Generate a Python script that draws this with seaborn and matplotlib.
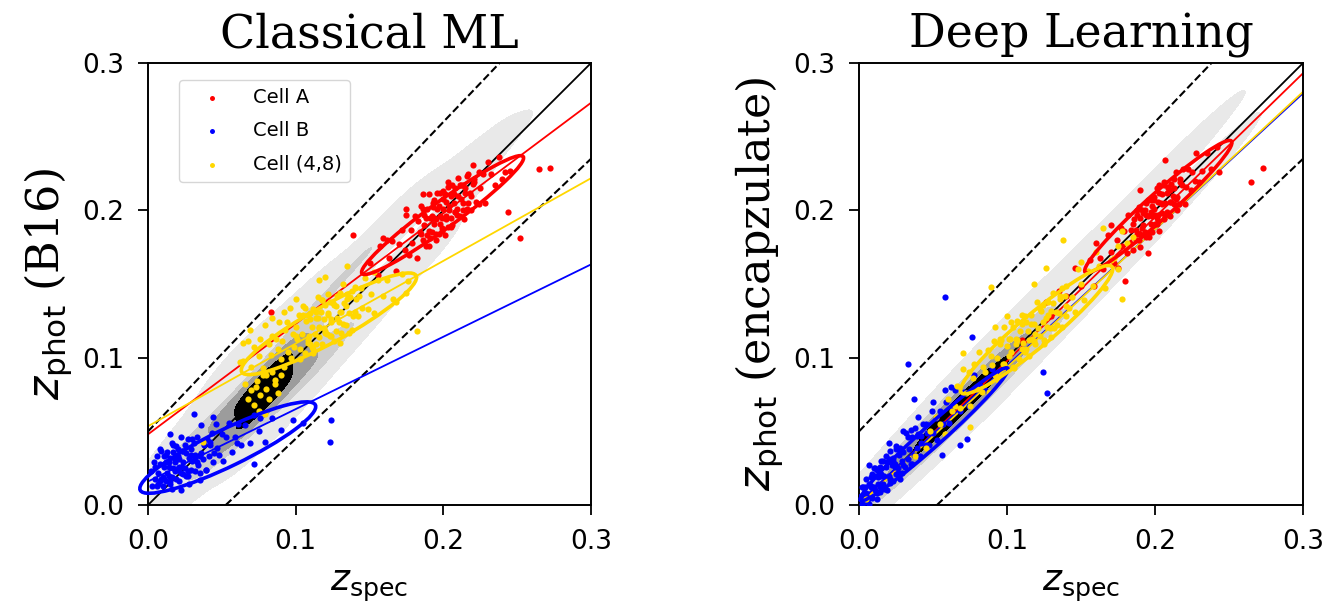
import numpy as np
import pandas as pd
import seaborn as sns
from matplotlib import pyplot as plt
from matplotlib.colors import ListedColormap
from matplotlib.patches import Ellipse

# all redshifts below are z * 1000, pairs of (z_spec, z_phot)

# ---- Classical ML (B16) ----
cla_cell_a = [(150,164),(156,156),(159,181),(163,168),(165,179),(168,159),(170,177),(172,187),(174,173),
              (175,197),(177,170),(178,187),(179,178),(181,196),(182,168),(183,193),(184,185),(185,203),
              (186,180),(187,190),(188,176),(188,195),(189,201),(190,186),(190,211),(191,181),(192,196),
              (192,185),(193,202),(194,191),(194,207),(195,180),(195,194),(196,212),(197,184),(197,203),
              (198,191),(198,212),(199,195),(199,188),(200,208),(200,201),(201,183),(201,211),(202,196),
              (202,206),(203,189),(203,219),(204,200),(205,195),(205,210),(206,217),(206,190),(207,205),
              (208,199),(208,215),(209,197),(210,210),(210,222),(211,196),(212,208),(213,205),(213,217),
              (214,194),(215,215),(216,223),(217,205),(218,212),(219,200),(220,231),(221,219),(222,206),
              (224,226),(225,215),(227,225),(228,205),(230,233),(232,225),(235,217),(238,236),(242,226),
              (252,181),(265,228),(272,229),(139,183),(244,199),(245,227),(240,221),(83,131),(157,176),
              (162,180),(186,211),(175,201),
              (185,184),(187,197),(189,183),(191,195),(193,205),(195,184),(196,201),(198,196),(200,213),
              (202,194),(204,203),(205,189),(207,211),(209,201),(211,217),(213,200),(215,212),(217,225),
              (219,210),(221,221),(190,176),(194,195),(199,186),(203,216),(208,199),(212,217),(216,201),
              (220,218),(224,204),(186,201)]
cla_cell_b = [(2,23),(3,13),(4,29),(5,18),(6,33),(6,13),(7,22),(8,16),(8,28),(9,37),(10,19),(10,13),
              (11,26),(11,33),(12,16),(12,29),(13,22),(13,36),(14,20),(14,26),(15,14),(15,32),(16,42),
              (16,19),(17,25),(17,36),(18,23),(18,31),(19,18),(19,40),(20,24),(20,33),(21,16),(21,31),
              (22,46),(22,22),(23,37),(24,29),(24,21),(25,41),(25,25),(26,35),(27,20),(27,45),(28,32),
              (29,24),(29,38),(30,30),(31,42),(32,23),(32,34),(33,46),(34,27),(35,33),(36,54),(37,31),
              (38,41),(39,24),(40,45),(41,33),(42,41),(43,49),(44,29),(46,55),(47,39),(48,34),(50,48),
              (51,30),(53,46),(55,56),(57,36),(59,46),(61,55),(63,41),(66,54),(69,42),(72,61),(75,50),
              (79,43),(84,59),(124,58),(123,43),(31,62),(72,28),(98,58),(105,56),(90,51),(15,48),(44,60),
              (8,38),(76,59),(60,42),(16,11),(22,10),(28,14),(35,17),
              (5,26),(9,18),(12,34),(15,16),(18,29),(21,26),(24,37),(27,23),(30,45),(33,29),(36,35),
              (39,24),(42,43),(45,35),(7,14),(14,29),(20,38),(26,20),(32,32),(38,42),(11,18),(17,41),
              (23,26),(29,34),(35,22)]
cla_cell_48 = [(64,98),(66,82),(68,111),(70,94),(72,107),(73,80),(75,101),(76,113),(78,93),(79,122),
               (80,88),(82,109),(83,102),(84,115),(86,85),(87,113),(88,106),(89,124),(90,99),(91,111),
               (92,94),(93,119),(94,124),(95,104),(96,134),(97,100),(98,116),(99,107),(100,121),(101,113),
               (102,129),(103,99),(104,116),(105,135),(106,103),(107,125),(108,110),(108,129),(109,115),
               (110,109),(110,130),(111,121),(112,103),(112,133),(113,116),(114,127),(114,109),(115,141),
               (116,121),(116,114),(117,131),(118,139),(118,109),(119,126),(120,118),(120,136),(121,116),
               (122,130),(122,143),(123,115),(124,126),(124,124),(125,137),(126,111),(127,135),(128,142),
               (129,124),(130,131),(131,117),(132,150),(133,137),(134,122),(135,143),(136,130),(137,141),
               (138,119),(140,148),(141,140),(142,128),(144,147),(145,134),(147,154),(149,133),(151,143),
               (153,130),(156,153),(159,142),(162,153),(166,140),(172,157),(116,153),(135,162),(153,158),
               (182,118),(175,144),(168,138),(62,97),(64,110),(69,119),(84,127),(37,43),(130,110),
               (176,152),(120,155),(100,140),(92,131),(68,72),(70,78),(72,68),(74,84),(76,75),(78,88),
               (80,79),(82,72),(84,90),(86,82),(88,76),(90,88),(75,64),(79,62),
               (100,115),(103,106),(105,129),(108,112),(110,126),(112,106),(114,131),(116,120),(118,139),
               (120,117),(122,129),(124,115),(126,136),(128,127),(130,144),(132,123),(134,135),(136,117),
               (138,145),(140,131),(106,134),(111,107),(115,127),(119,120),(123,138),(127,118),(131,131),
               (135,140),(139,128),(143,142)]
cla_field = [(55,57),(57,47),(59,67),(60,55),(62,67),(63,50),(65,64),(66,76),(68,60),(69,72),(70,55),
             (72,78),(73,70),(74,86),(75,64),(77,78),(78,72),(79,88),(80,71),(81,85),(82,68),(83,90),
             (85,83),(86,97),(87,75),(88,88),(90,83),(91,99),(92,82),(94,96),(95,91),(97,102),(99,86),
             (101,104),(103,95),(105,112),(70,53),(80,93),(90,74),(100,114),
             (5,20),(10,10),(15,30),(20,14),(25,38),(30,22),(35,45),(40,30),(45,55),(50,38),(110,130),
             (115,102),(125,145),(130,115),(140,160),(145,132),(155,178),(165,160),(175,195),(185,178),
             (200,220),(210,205),(225,240),(240,245),(120,105),(100,125),(85,110),(110,90),(50,65),
             (40,55),(60,100),(70,40),(80,115),(90,60),(110,145),(120,95),(130,155),(140,115),(150,175),
             (160,140),(45,75),(35,15),(20,45),(100,70),(170,200),(190,170)]

# ---- Deep Learning (encapzulate) ----
dl_cell_a = [(150,149),(156,166),(159,149),(163,168),(165,160),(168,183),(170,172),(172,164),(174,180),
             (175,161),(177,188),(178,176),(179,186),(181,171),(182,197),(183,178),(184,187),(185,173),
             (186,194),(187,187),(188,200),(188,184),(189,180),(190,195),(190,175),(191,200),(192,190),
             (192,198),(193,185),(194,197),(194,182),(195,207),(195,196),(196,182),(197,207),(197,191),
             (198,203),(198,185),(199,201),(199,207),(200,191),(200,197),(201,215),(201,191),(202,206),
             (202,197),(203,212),(203,186),(204,205),(205,211),(205,198),(206,194),(206,217),(207,205),
             (208,212),(208,199),(209,216),(210,206),(210,196),(211,218),(212,210),(213,215),(213,204),
             (214,226),(215,209),(216,204),(217,221),(218,217),(219,228),(220,204),(221,216),(222,228),
             (224,214),(225,226),(227,220),(228,239),(230,219),(232,227),(235,239),(238,228),(242,243),
             (243,226),(265,219),(273,229),(207,234),(146,161),(180,152),(160,178),(126,138),(135,145),
             (195,171),(130,128),(140,142),(110,112),(190,214),(170,190),
             (185,191),(187,180),(189,202),(191,188),(193,200),(195,183),(197,199),(199,209),(201,195),
             (203,217),(205,204),(207,197),(209,215),(211,206),(213,221),(215,200),(217,219),(190,184),
             (194,205),(198,196),(202,193),(206,219),(210,214),(214,208),(188,197)]
dl_cell_b = [(1,6),(2,1),(2,12),(3,3),(4,12),(4,2),(5,8),(5,18),(6,4),(7,14),(7,1),(8,12),(8,19),(9,5),
             (10,12),(10,25),(11,10),(11,20),(12,4),(13,19),(13,14),(14,26),(14,9),(15,20),(16,14),
             (16,30),(17,11),(17,20),(18,26),(19,10),(19,29),(20,20),(21,37),(21,18),(22,27),(23,16),
             (23,32),(24,26),(25,21),(25,38),(26,25),(27,34),(28,18),(28,39),(29,30),(30,36),(31,26),
             (32,49),(33,31),(34,38),(35,28),(36,46),(37,34),(38,52),(39,39),(40,48),(41,33),(42,47),
             (43,55),(45,41),(46,49),(47,41),(49,64),(50,49),(52,59),(53,44),(55,64),(57,55),(59,70),
             (61,56),(63,67),(65,78),(68,64),(71,77),(74,67),(78,88),(82,81),(58,141),(33,96),(76,114),
             (124,90),(127,76),(37,72),(58,78),(73,45),(68,41),(56,34),(7,27),(15,30),(25,40),(12,24),
             (40,60),(30,50),(50,70),(20,42),(85,78),(90,92),(62,80),
             (3,12),(6,5),(9,21),(12,8),(15,21),(18,33),(21,15),(24,28),(27,38),(30,27),(33,46),(36,28),
             (39,47),(42,42),(45,55),(5,6),(11,25),(17,12),(23,30),(29,22),(35,51),(8,13),(14,12),
             (20,31),(26,22)]
dl_cell_48 = [(66,81),(68,66),(70,92),(72,76),(74,90),(75,67),(77,86),(78,96),(80,79),(81,104),(83,77),
              (84,94),(85,90),(87,105),(88,77),(89,101),(90,95),(91,111),(92,88),(93,100),(94,85),
              (95,109),(96,112),(97,96),(98,121),(99,93),(100,108),(101,101),(102,113),(103,104),
              (104,121),(105,93),(106,109),(107,125),(108,99),(109,118),(110,106),(110,123),(111,110),
              (112,104),(113,124),(114,118),(115,101),(116,129),(117,113),(118,123),(119,109),(120,138),
              (121,120),(122,115),(123,132),(124,136),(125,112),(126,127),(127,121),(128,138),(129,120),
              (130,132),(131,144),(132,120),(133,131),(135,130),(136,142),(137,121),(139,142),(140,149),
              (142,134),(144,141),(146,131),(148,160),(150,150),(152,139),(155,159),(158,149),(162,162),
              (166,147),(170,166),(89,148),(126,161),(138,180),(165,188),(70,103),(178,140),(38,33),
              (45,39),(65,67),(5,4),(75,53),(52,60),(58,48),(181,178),(172,168),(60,72),(55,55),(63,64),
              (48,50),(150,165),(140,128),(160,172),(118,150),(100,128),(92,121),(175,160),(175,176),
              (185,182),(178,186),
              (95,113),(98,96),(101,113),(104,94),(107,112),(110,129),(113,106),(116,123),(119,116),
              (122,133),(125,109),(128,129),(131,137),(134,122),(137,147),(140,135),(100,92),(106,113),
              (112,128),(118,111),(124,124),(130,114),(136,140),(103,124),(115,112)]
dl_field = [(45,44),(47,52),(49,46),(51,55),(53,49),(55,58),(57,52),(59,62),(61,56),(63,66),(65,60),
            (67,70),(69,63),(71,74),(73,67),(75,78),(77,71),(79,82),(81,75),(83,86),(85,79),(87,90),
            (89,84),(92,94),(94,88),(97,99),(100,95),(103,106),(5,4),(10,18),(15,8),(20,28),(25,16),
            (30,40),(35,26),(40,52),(110,128),(115,104),(125,142),(130,118),(140,156),(145,134),
            (155,170),(165,152),(175,190),(185,174),(195,212),(210,200),(220,240),(230,225),(80,100),
            (100,82),(60,76),(70,54)]

cell_names = ['Cell A', 'Cell B', 'Cell (4,8)']
cell_colors = ['#ff0000', '#0000ff', '#ffd700']

# linear fits per cell: (intercept, slope)
cla_fits = [(0.048, 0.750), (0.016, 0.491), (0.0535, 0.561)]
dl_fits = [(0.000, 0.977), (0.002, 0.925), (0.000, 0.935)]

# error ellipses: centre, major length, minor length, angle (deg)
cla_ell = [((0.1995, 0.1968), 0.135, 0.018, 36),
           ((0.054, 0.039), 0.132, 0.025, 26),
           ((0.1225, 0.123), 0.135, 0.025, 29)]
dl_ell = [((0.2022, 0.2025), 0.133, 0.017, 42),
          ((0.0507, 0.048), 0.134, 0.014, 42),
          ((0.120, 0.119), 0.133, 0.022, 40)]

outlier_cut = 0.05

greys = ListedColormap(['#e9e9e9', '#cdcdcd', '#9c9c9c', '#5a5a5a', '#000000'])


def to_df(pairs):
    arr = np.array(pairs) / 1000.0
    return pd.DataFrame({'spec': arr[:, 0], 'phot': arr[:, 1]})


sns.set_style('ticks')
plt.rcParams['mathtext.fontset'] = 'dejavusans'
plt.rcParams['font.family'] = ['DejaVu Sans']
for key in ['text.color', 'axes.labelcolor', 'xtick.color', 'ytick.color', 'axes.edgecolor']:
    plt.rcParams[key] = 'black'

fig = plt.figure(figsize=(13.41, 6.12), dpi=100)
ax1 = fig.add_axes([0.1104, 0.1748, 0.3303, 0.7222])
ax2 = fig.add_axes([0.6406, 0.1748, 0.3311, 0.7222])

panels = [
    (ax1, 'Classical ML', r'$z_{\rm phot}$ (B16)', cla_field, 0.8,
     [cla_cell_a, cla_cell_b, cla_cell_48], cla_fits, cla_ell),
    (ax2, 'Deep Learning', r'$z_{\rm phot}$ (encapzulate)', dl_field, 1.2,
     [dl_cell_a, dl_cell_b, dl_cell_48], dl_fits, dl_ell),
]

for ax, title, ylab, field, bw, cells, fits, ells in panels:
    fdf = to_df(field)
    sns.kdeplot(data=fdf, x='spec', y='phot', fill=True, levels=6, thresh=0.03,
                cmap=greys, bw_adjust=bw, ax=ax, zorder=0)

    ax.axline((0, 0), slope=1, color='k', lw=1.3, zorder=2)
    ax.axline((0, outlier_cut), slope=1 + outlier_cut, color='k', ls='--', lw=1.5, zorder=2)
    ax.axline((0, -outlier_cut), slope=1 - outlier_cut, color='k', ls='--', lw=1.5, zorder=2)

    for (b, m), c in zip(fits, cell_colors):
        ax.axline((0, b), slope=m, color=c, lw=1.3, zorder=2)

    for pts, name, c in zip(cells, cell_names, cell_colors):
        sns.scatterplot(data=to_df(pts), x='spec', y='phot', color=c, s=20, linewidth=0,
                        label=name, ax=ax, zorder=3)

    for (cen, w, h, ang), c in zip(ells, cell_colors):
        ax.add_patch(Ellipse(cen, w, h, angle=ang, fill=False, edgecolor=c, lw=2.6,
                             zorder=4, clip_on=False))

    ax.set_xlim(0, 0.3)
    ax.set_ylim(0, 0.3)
    ax.set_xticks([0, 0.1, 0.2, 0.3])
    ax.set_yticks([0, 0.1, 0.2, 0.3])
    ax.xaxis.set_major_formatter('{x:.1f}')
    ax.yaxis.set_major_formatter('{x:.1f}')
    ax.tick_params(labelsize=19, length=7, width=1.3, direction='out')
    ax.tick_params(axis='x', pad=10)
    ax.tick_params(axis='y', pad=10)
    for sp in ax.spines.values():
        sp.set_linewidth(1.4)
        sp.set_visible(True)
    ax.set_title(title, fontsize=33, family='DejaVu Serif', pad=11)
    ax.set_xlabel(r'$z_{\rm spec}$', fontsize=26, labelpad=10)
    ax.set_ylabel(ylab, fontsize=32, family='DejaVu Serif', labelpad=6)

ax1.legend(loc='upper left', bbox_to_anchor=(0.07, 0.962), borderaxespad=0, fontsize=14,
           markerscale=0.8, handlelength=2.6, labelspacing=0.75, frameon=True)
ax2.get_legend().remove()

fig.savefig('out.png', dpi=100)
